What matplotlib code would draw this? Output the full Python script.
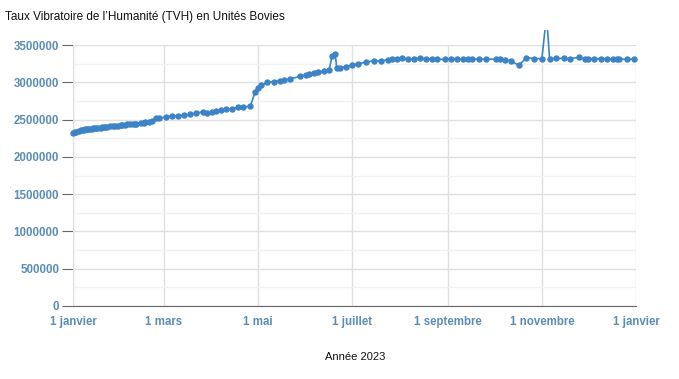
import numpy as np
import pandas as pd
import matplotlib
matplotlib.use('Agg')
import matplotlib.pyplot as plt
import matplotlib.dates as mdates
from matplotlib.ticker import MultipleLocator, FuncFormatter
from matplotlib.transforms import Bbox

matplotlib.rc('font', family='Liberation Sans')

# days since 1 janvier 2023
days = [0, 1, 2, 4, 5, 6, 7, 8, 9, 10, 11, 12, 13, 14, 15, 16, 18, 19, 20, 21,
        22, 24, 26, 27, 29, 31, 32, 34, 35, 37, 39, 40, 41, 44, 46, 47, 49, 51,
        54, 56, 60, 64, 68, 72, 76, 80, 84, 87, 90, 93, 96, 99, 103, 107, 110,
        115, 118, 120, 122, 126, 130, 134, 137, 141, 147, 151, 153, 156, 159,
        163, 166, 168, 170, 171, 173, 177, 181, 185, 190, 195, 200, 204, 207,
        210, 213, 217, 221, 225, 229, 233, 236, 241, 245, 249, 253, 256, 259,
        263, 268, 274, 277, 280, 284, 289, 294, 299, 304, 307, 309, 313, 318,
        322, 328, 332, 334, 338, 342, 346, 350, 353, 354, 359, 364]

tvh = [2320000, 2329000, 2338000, 2347000, 2356000, 2360000, 2365000, 2369000,
       2369000, 2374000, 2374000, 2378000, 2383000, 2383000, 2387000, 2391000,
       2391000, 2396000, 2400000, 2400000, 2405000, 2409000, 2414000, 2418000,
       2418000, 2423000, 2427000, 2432000, 2436000, 2436000, 2441000, 2441000,
       2445000, 2454000, 2458000, 2463000, 2463000, 2476000, 2517000, 2526000,
       2530000, 2548000, 2552000, 2557000, 2570000, 2584000, 2606000, 2593000,
       2602000, 2610000, 2624000, 2637000, 2646000, 2664000, 2664000, 2682000,
       2865000, 2928000, 2959000, 2999000, 3008000, 3022000, 3031000, 3044000,
       3080000, 3102000, 3111000, 3120000, 3133000, 3151000, 3160000, 3355000,
       3379000, 3185000, 3196000, 3209000, 3232000, 3250000, 3268000, 3290000,
       3285000, 3303000, 3312000, 3317000, 3326000, 3308000, 3312000, 3326000,
       3312000, 3312000, 3308000, 3308000, 3312000, 3312000, 3308000, 3312000,
       3312000, 3308000, 3312000, 3308000, 3308000, 3303000, 3285000, 3227000,
       3330000, 3317000, 3317000, 3900000, 3308000, 3321000, 3321000, 3317000,
       3335000, 3308000, 3317000, 3317000, 3317000, 3317000, 3308000, 3312000,
       3312000, 3308000, 3312000]

dates = pd.Timestamp('2023-01-01') + pd.to_timedelta(days, unit='D')

mois = ['janvier', 'février', 'mars', 'avril', 'mai', 'juin', 'juillet',
        'août', 'septembre', 'octobre', 'novembre', 'décembre']

blue = '#3d84c6'
label_col = '#5b8db5'

fig = plt.figure(figsize=(6.79, 3.79), dpi=100)
ax = fig.add_axes([73/679, 1 - 306/379, 563/679, 261/379])

line, = ax.plot(dates, tvh, color=blue, lw=1.2, marker='o', ms=3.6,
                mec=blue, mfc=blue, zorder=3)
# let the spike overflow above the plot area like the original
line.set_clip_box(Bbox.from_extents(0, 0, 679, 379 - 30))

ax.set_ylim(0, 3500000)
ax.set_xlim(pd.Timestamp('2023-01-01'), pd.Timestamp('2024-01-01'))

ax.yaxis.set_major_locator(MultipleLocator(500000))
ax.yaxis.set_minor_locator(MultipleLocator(250000))
ax.yaxis.set_major_formatter(FuncFormatter(lambda v, pos: '%d' % v))
ax.xaxis.set_major_locator(mdates.MonthLocator(bymonth=[1, 3, 5, 7, 9, 11]))
ax.xaxis.set_major_formatter(FuncFormatter(
    lambda x, pos: '1 ' + mois[mdates.num2date(x).month - 1]))

ax.grid(which='major', color='#e0e0e0', lw=1)
ax.grid(which='minor', axis='y', color='#f2f2f2', lw=1)
ax.set_axisbelow(True)

for s in ['top', 'right']:
    ax.spines[s].set_visible(False)
ax.spines['left'].set_color('#e0e0e0')
ax.spines['bottom'].set_color('#666666')

ax.tick_params(axis='y', which='major', length=8, color='#666666',
               labelsize=8.3, labelcolor=label_col, pad=2)
ax.tick_params(axis='y', which='minor', length=0)
ax.tick_params(axis='x', length=0, labelsize=8.3, labelcolor=label_col, pad=7)
for t in ax.get_xticklabels() + ax.get_yticklabels():
    t.set_fontweight('bold')

fig.text(5/679, 1 - 17/379, "Taux Vibratoire de l’Humanité (TVH) en Unités Bovies",
         fontsize=8.5, va='center', ha='left', color='#111111')
fig.text(355/679, 1 - 357/379, 'Année 2023', fontsize=8, ha='center',
         va='center', color='#111111')
fig.text(10/679, 1 - 187/379, '.', fontsize=4, color='#555555',
         ha='center', va='center')

fig.savefig('out.png', dpi=100)
